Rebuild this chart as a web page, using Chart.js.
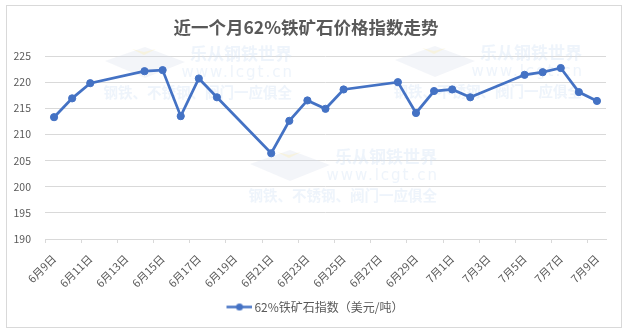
<!DOCTYPE html>
<html>
<head>
<meta charset="utf-8">
<script src="https://cdn.jsdelivr.net/npm/chart.js@4.4.1/dist/chart.umd.min.js"></script>
<style>
  body { margin: 0; background: #fff; }
  canvas { display: block; }
</style>
</head>
<body>
<canvas id="ore-index" width="631" height="335"></canvas>
<script>
// 日期（每日一个类别，周末无数据）
const days = [
    "6月9日", "6月10日", "6月11日", "6月12日", "6月13日", "6月14日", "6月15日", "6月16日",
    "6月17日", "6月18日", "6月19日", "6月20日", "6月21日", "6月22日", "6月23日", "6月24日",
    "6月25日", "6月26日", "6月27日", "6月28日", "6月29日", "6月30日", "7月1日", "7月2日",
    "7月3日", "7月4日", "7月5日", "7月6日", "7月7日", "7月8日", "7月9日",
];
const oreIndex = [
    213.3, 216.9, 219.8, null, null, 222.1, 222.3, 213.5,
    220.7, 217.1, null, null, 206.4, 212.6, 216.5, 214.9,
    218.6, null, null, 220.0, 214.1, 218.3, 218.6, 217.1,
    null, null, 221.4, 221.9, 222.7, 218.1, 216.4,
];
const yTicks = [190, 195, 200, 205, 210, 215, 220, 225];
const seriesName = "62%铁矿石指数（美元/吨）";
const titleText = "近一个月62%铁矿石价格指数走势";

const blue = "#4472c4";
const grey = "#595959";
const lineGrey = "#d9d9d9";
const font = "'Noto Sans CJK SC', 'Noto Sans', sans-serif";

// legend marker: line with a dot (padded on the left so it sits near the text)
const legendMark = document.createElement("canvas");
legendMark.width = 48;
legendMark.height = 9;
(() => {
    const c = legendMark.getContext("2d");
    c.strokeStyle = blue;
    c.lineWidth = 2.5;
    c.beginPath();
    c.moveTo(22, 4.5);
    c.lineTo(48, 4.5);
    c.stroke();
    c.fillStyle = blue;
    c.beginPath();
    c.arc(35, 4.5, 3.5, 0, Math.PI * 2);
    c.fill();
})();

// faint watermark behind the line
const watermark = {
    id: "watermark",
    beforeDatasetsDraw(chart) {
        const ctx = chart.ctx;
        const spots = [[292, 54], [582, 53], [437, 157]];
        ctx.save();
        spots.forEach(([r, y]) => {
            // logo block
            ctx.fillStyle = "rgba(214,222,235,0.3)";
            ctx.beginPath();
            ctx.moveTo(r - 187, y + 7);
            ctx.lineTo(r - 147, y - 7);
            ctx.lineTo(r - 107, y + 8);
            ctx.lineTo(r - 147, y + 24);
            ctx.closePath();
            ctx.fill();
            ctx.fillStyle = "rgba(250,240,190,0.45)";
            ctx.beginPath();
            ctx.moveTo(r - 160, y - 5);
            ctx.lineTo(r - 148, y + 1);
            ctx.lineTo(r - 136, y - 5);
            ctx.lineTo(r - 148, y - 2);
            ctx.closePath();
            ctx.fill();

            ctx.fillStyle = "rgba(205,224,243,0.35)";
            ctx.textAlign = "right";
            ctx.textBaseline = "middle";
            ctx.font = "bold 17px " + font;
            ctx.fillText("乐从钢铁世界", r, y);
            ctx.font = "15px 'DejaVu Sans', sans-serif";
            ctx.letterSpacing = "2px";
            ctx.fillText("www.lcgt.cn", r + 2, y + 19);
            ctx.letterSpacing = "0px";
            ctx.font = "bold 14.5px " + font;
            ctx.fillText("钢铁、不锈钢、阀门一应俱全", r, y + 38);
        });
        ctx.restore();
    },
};

// outer frame
const frame = {
    id: "frame",
    afterDraw(chart) {
        const ctx = chart.ctx;
        ctx.save();
        ctx.strokeStyle = lineGrey;
        ctx.lineWidth = 1;
        ctx.strokeRect(6.5, 5.5, 615, 322);
        ctx.restore();
    },
};

new Chart(document.querySelector("#ore-index"), {
    type: "line",
    data: {
        labels: days,
        datasets: [
            {
                label: seriesName,
                data: oreIndex,
                borderColor: blue,
                backgroundColor: blue,
                borderWidth: 2.75,
                pointRadius: 3.6,
                pointBackgroundColor: blue,
                pointBorderColor: blue,
                pointBorderWidth: 1,
                spanGaps: true,
                tension: 0,
            },
        ],
    },
    plugins: [watermark, frame],
    options: {
        responsive: false,
        animation: false,
        devicePixelRatio: 1,
        layout: {
            padding: { left: 6, right: 25, top: 6, bottom: 12 },
        },
        plugins: {
            title: {
                display: true,
                text: titleText,
                color: grey,
                font: { family: font, size: 17.5, weight: "bold" },
                padding: { top: 11, bottom: 18 },
            },
            legend: {
                position: "bottom",
                labels: {
                    usePointStyle: true,
                    pointStyle: legendMark,
                    pointStyleWidth: 40,
                    color: grey,
                    font: { family: font, size: 12 },
                    padding: 10,
                },
            },
            tooltip: { enabled: false },
        },
        scales: {
            x: {
                offset: true,
                afterFit: (scale) => {
                    scale.height = 52;
                },
                grid: {
                    offset: true,
                    drawOnChartArea: false,
                    drawTicks: true,
                    tickLength: 4,
                    color: (c) => (c.index % 2 === 0 ? lineGrey : "rgba(0,0,0,0)"),
                },
                border: { color: lineGrey },
                ticks: {
                    autoSkip: false,
                    minRotation: 45,
                    maxRotation: 45,
                    color: grey,
                    font: { family: font, size: 11 },
                    padding: 9,
                    callback: (v, i) => (i % 2 === 0 ? days[i] : ""),
                },
            },
            y: {
                min: yTicks[0],
                max: yTicks[yTicks.length - 1],
                afterBuildTicks: (scale) => {
                    scale.ticks = yTicks.map((v) => ({ value: v }));
                },
                afterFit: (scale) => {
                    scale.width = 39;
                },
                grid: { color: lineGrey, drawTicks: false },
                border: { display: false },
                ticks: {
                    color: grey,
                    font: { family: font, size: 10.5 },
                    padding: 14,
                },
            },
        },
    },
});
</script>
</body>
</html>
